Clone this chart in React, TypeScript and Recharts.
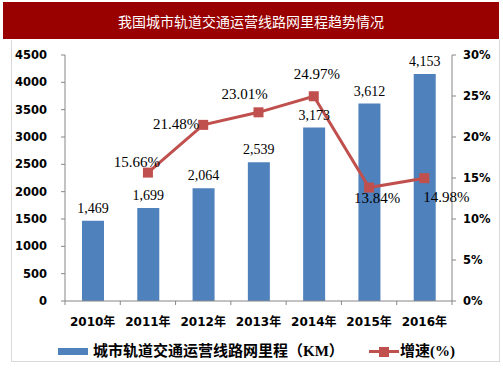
import React from 'react';
import { ComposedChart, Bar, Line, XAxis, YAxis, LabelList } from 'recharts';

const years = ['2010年', '2011年', '2012年', '2013年', '2014年', '2015年', '2016年'];
const mileage = [1469, 1699, 2064, 2539, 3173, 3612, 4153];
const growth: (number | null)[] = [null, 15.66, 21.48, 23.01, 24.97, 13.84, 14.98];
const leftTicks = [0, 500, 1000, 1500, 2000, 2500, 3000, 3500, 4000, 4500];
const rightTicks = [0, 5, 10, 15, 20, 25, 30];

const title = '我国城市轨道交通运营线路网里程趋势情况';
const barName = '城市轨道交通运营线路网里程（KM）';
const lineName = '增速(%)';

// label offsets (dx, dy) for the growth labels, by index
const growthLabelOffsets: [number, number][] = [
  [0, 0], [-11, -11], [-27, -1], [-14, -18], [3, -22], [8, 10], [22, 19],
];

const data = years.map((y, i) => ({ year: y, mileage: mileage[i], growth: growth[i] }));

const BAR = '#4F81BD';
const LINE = '#C0504D';
const AXIS = '#868686';
const SERIF = '"Liberation Serif", "Times New Roman", "Noto Sans CJK SC", serif';
const TICKFONT = '"DejaVu Sans", "Noto Sans CJK SC", sans-serif';

const PLOT_LEFT = 65;
const PLOT_RIGHT = 452;
const BAND = (PLOT_RIGHT - PLOT_LEFT) / years.length;

const XTick = (props: any) => {
  const { x, y, payload, index } = props;
  return (
    <g>
      <line x1={x - BAND / 2} x2={x - BAND / 2} y1={y} y2={y + 4} stroke={AXIS} />
      {index === years.length - 1 && (
        <line x1={x + BAND / 2} x2={x + BAND / 2} y1={y} y2={y + 4} stroke={AXIS} />
      )}
      <text x={x} y={y + 21} textAnchor="middle" dominantBaseline="central"
        fontFamily={TICKFONT} fontWeight="bold" fontSize={12} fill="#000">
        {payload.value}
      </text>
    </g>
  );
};

const Square = (props: any) => {
  const { cx, cy, payload } = props;
  if (payload == null || payload.growth == null || cx == null || cy == null) return <g />;
  return <rect x={cx - 5} y={cy - 5} width={10} height={10} fill={LINE} />;
};

const GrowthLabel = (props: any) => {
  const { x, y, value, index } = props;
  if (value == null) return null;
  const [dx, dy] = growthLabelOffsets[index] || [0, -12];
  return (
    <text x={x + dx} y={y + dy} textAnchor="middle" dominantBaseline="central"
      fontFamily={SERIF} fontSize={15} fill="#000">
      {Number(value).toFixed(2)}%
    </text>
  );
};

export default function App() {
  return (
    <div style={{ position: 'absolute', left: 0, top: 0, width: 503, height: 378, background: '#fff' }}>
      <div style={{
        position: 'absolute', left: 3, top: 2, width: 496, height: 37, background: '#990000',
        color: '#fff', fontFamily: '"Noto Sans CJK SC", sans-serif', fontSize: 14,
        display: 'flex', alignItems: 'center', justifyContent: 'center',
      }}>{title}</div>
      <div style={{
        position: 'absolute', left: 11, top: 40, width: 489, height: 322,
        border: '1px solid #d9d9d9', boxSizing: 'border-box', borderTop: 'none',
      }} />
      <div style={{ position: 'absolute', left: 0, top: 0 }}>
        <ComposedChart width={503} height={378} data={data}
          margin={{ top: 55, right: 0, bottom: 47, left: 10 }}>
          <XAxis dataKey="year" height={30} stroke={AXIS} tickLine={false}
            tickSize={0} tickMargin={0} tick={<XTick />} interval={0} />
          <YAxis yAxisId="left" width={55} domain={[0, 4500]} ticks={leftTicks}
            stroke={AXIS} tickSize={4} tickMargin={14} interval={0}
            tick={{ fill: '#000', fontFamily: TICKFONT, fontWeight: 'bold', fontSize: 11.5 }} />
          <YAxis yAxisId="right" orientation="right" width={51} domain={[0, 30]} ticks={rightTicks}
            stroke={AXIS} tickSize={4} tickMargin={7} interval={0}
            tickFormatter={(v: number) => `${v}%`}
            tick={{ fill: '#000', fontFamily: TICKFONT, fontWeight: 'bold', fontSize: 11.5, textAnchor: 'start' }} />
          <Bar yAxisId="left" dataKey="mileage" fill={BAR} barSize={22} isAnimationActive={false}>
            <LabelList dataKey="mileage" position="top" offset={8}
              formatter={(v: any) => Number(v).toLocaleString('en-US')}
              style={{ fontFamily: SERIF, fontSize: 14, fill: '#000' }} />
          </Bar>
          <Line yAxisId="right" dataKey="growth" stroke={LINE} strokeWidth={3}
            dot={<Square />} activeDot={false} connectNulls isAnimationActive={false}>
            <LabelList dataKey="growth" content={<GrowthLabel />} />
          </Line>
        </ComposedChart>
      </div>
      <div style={{
        position: 'absolute', left: 0, top: 342, width: 503, height: 18,
        fontFamily: '"Liberation Serif", "Noto Sans CJK SC", serif', fontWeight: 'bold', fontSize: 15,
        color: '#000',
      }}>
        <div style={{ position: 'absolute', left: 58, top: 6, width: 30, height: 7, background: BAR }} />
        <div style={{ position: 'absolute', left: 93, top: 0, lineHeight: '18px', whiteSpace: 'nowrap' }}>{barName}</div>
        <div style={{ position: 'absolute', left: 369, top: 8, width: 30, height: 3, background: LINE }} />
        <div style={{ position: 'absolute', left: 379, top: 4.5, width: 10, height: 10, background: LINE }} />
        <div style={{ position: 'absolute', left: 400, top: 0, lineHeight: '18px', whiteSpace: 'nowrap' }}>{lineName}</div>
      </div>
    </div>
  );
}
